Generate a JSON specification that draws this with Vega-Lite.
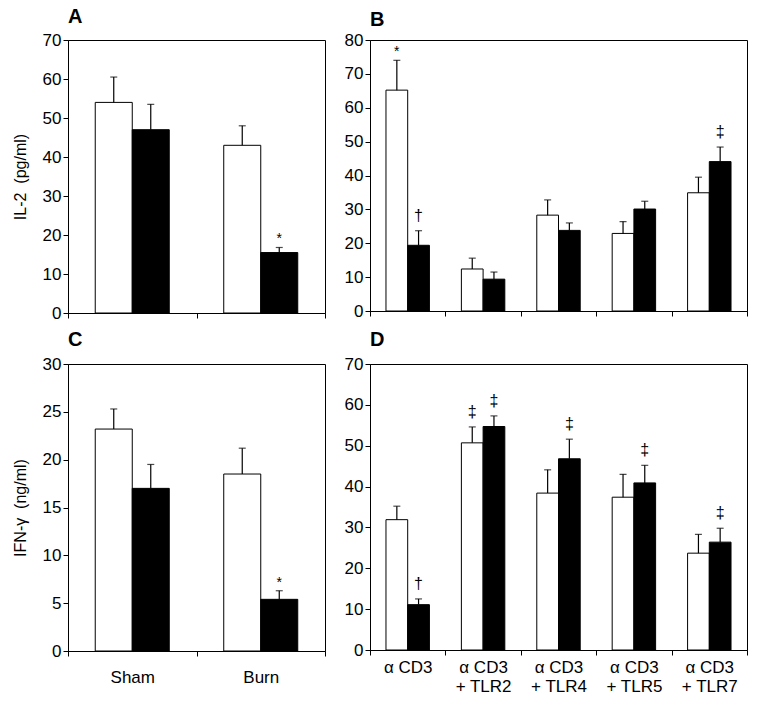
{
  "$schema": "https://vega.github.io/schema/vega-lite/v6.json",
  "padding": {"left": 11, "top": 6, "right": 10, "bottom": 5},
  "background": "white",
  "datasets": {
    "A": [
      {"group": "Sham", "series": "Group 1", "value": 54.0, "upper": 60.5, "sig": ""},
      {"group": "Sham", "series": "Group 2", "value": 47.0, "upper": 53.5, "sig": ""},
      {"group": "Burn", "series": "Group 1", "value": 43.0, "upper": 48.0, "sig": ""},
      {"group": "Burn", "series": "Group 2", "value": 15.5, "upper": 16.8, "sig": "*"}
    ],
    "B": [
      {"group": "α CD3", "series": "Group 1", "value": 65.2, "upper": 74.0, "sig": "*"},
      {"group": "α CD3", "series": "Group 2", "value": 19.4, "upper": 23.7, "sig": "†"},
      {"group": "α CD3 + TLR2", "series": "Group 1", "value": 12.4, "upper": 15.6, "sig": ""},
      {"group": "α CD3 + TLR2", "series": "Group 2", "value": 9.4, "upper": 11.5, "sig": ""},
      {"group": "α CD3 + TLR4", "series": "Group 1", "value": 28.3, "upper": 32.8, "sig": ""},
      {"group": "α CD3 + TLR4", "series": "Group 2", "value": 23.8, "upper": 26.0, "sig": ""},
      {"group": "α CD3 + TLR5", "series": "Group 1", "value": 22.9, "upper": 26.4, "sig": ""},
      {"group": "α CD3 + TLR5", "series": "Group 2", "value": 30.1, "upper": 32.4, "sig": ""},
      {"group": "α CD3 + TLR7", "series": "Group 1", "value": 34.9, "upper": 39.5, "sig": ""},
      {"group": "α CD3 + TLR7", "series": "Group 2", "value": 44.1, "upper": 48.4, "sig": "‡"}
    ],
    "C": [
      {"group": "Sham", "series": "Group 1", "value": 23.2, "upper": 25.3, "sig": ""},
      {"group": "Sham", "series": "Group 2", "value": 17.0, "upper": 19.5, "sig": ""},
      {"group": "Burn", "series": "Group 1", "value": 18.5, "upper": 21.2, "sig": ""},
      {"group": "Burn", "series": "Group 2", "value": 5.4, "upper": 6.3, "sig": "*"}
    ],
    "D": [
      {"group": "α CD3", "series": "Group 1", "value": 31.9, "upper": 35.2, "sig": ""},
      {"group": "α CD3", "series": "Group 2", "value": 11.1, "upper": 12.5, "sig": "†"},
      {"group": "α CD3 + TLR2", "series": "Group 1", "value": 50.7, "upper": 54.6, "sig": "‡"},
      {"group": "α CD3 + TLR2", "series": "Group 2", "value": 54.7, "upper": 57.3, "sig": "‡"},
      {"group": "α CD3 + TLR4", "series": "Group 1", "value": 38.4, "upper": 44.1, "sig": ""},
      {"group": "α CD3 + TLR4", "series": "Group 2", "value": 46.8, "upper": 51.6, "sig": "‡"},
      {"group": "α CD3 + TLR5", "series": "Group 1", "value": 37.4, "upper": 43.0, "sig": ""},
      {"group": "α CD3 + TLR5", "series": "Group 2", "value": 40.9, "upper": 45.2, "sig": "‡"},
      {"group": "α CD3 + TLR7", "series": "Group 1", "value": 23.7, "upper": 28.3, "sig": ""},
      {"group": "α CD3 + TLR7", "series": "Group 2", "value": 26.4, "upper": 29.8, "sig": "‡"}
    ]
  },
  "columns": 2,
  "align": "each",
  "spacing": {"row": 7, "column": 17},
  "resolve": {"scale": {"xOffset": "independent", "x": "independent", "y": "independent", "fill": "independent"}},
  "concat": [
    {
      "width": 257, "height": 273,
      "title": {"text": "A", "offset": 4.5},
      "data": {"name": "A"},
      "encoding": {
        "x": {"field": "group", "type": "nominal", "sort": ["Sham", "Burn"], "scale": {"paddingInner": 0, "paddingOuter": 0}, "axis": {"title": null, "labels": false, "tickBand": "extent"}},
        "xOffset": {"field": "series", "type": "nominal", "scale": {"paddingInner": 0, "paddingOuter": 0.736}}
      },
      "layer": [
        {"mark": {"type": "bar", "stroke": "black", "strokeWidth": 1},
         "encoding": {"y": {"field": "value", "type": "quantitative", "title": "IL-2\u00a0 (pg/ml)", "scale": {"domain": [0, 70]}, "axis": {"values": [0, 10, 20, 30, 40, 50, 60, 70]}},
           "fill": {"field": "series", "type": "nominal", "scale": {"domain": ["Group 1", "Group 2"], "range": ["white", "black"]}, "legend": null}}},
        {"mark": {"type": "rule", "strokeWidth": 1.2, "color": "black"}, "encoding": {"y": {"field": "value", "type": "quantitative", "title": "IL-2\u00a0 (pg/ml)", "axis": {"values": [0, 10, 20, 30, 40, 50, 60, 70]}}, "y2": {"field": "upper"}}},
        {"mark": {"type": "tick", "size": 7, "thickness": 1.2, "color": "black"}, "encoding": {"y": {"field": "upper", "type": "quantitative", "title": "IL-2\u00a0 (pg/ml)", "axis": {"values": [0, 10, 20, 30, 40, 50, 60, 70]}}}},
        {"transform": [{"filter": "datum.sig == '*'"}], "mark": {"type": "text", "fontSize": 14, "baseline": "alphabetic", "dy": -4, "color": "black"}, "encoding": {"y": {"field": "upper", "type": "quantitative", "title": "IL-2\u00a0 (pg/ml)", "axis": {"values": [0, 10, 20, 30, 40, 50, 60, 70]}}, "text": {"field": "sig"}}}
      ]
    },
    {
      "width": 377, "height": 271,
      "title": {"text": "B", "offset": 1},
      "data": {"name": "B"},
      "encoding": {
        "x": {"field": "group", "type": "nominal", "sort": ["α CD3", "α CD3 + TLR2", "α CD3 + TLR4", "α CD3 + TLR5", "α CD3 + TLR7"], "scale": {"paddingInner": 0, "paddingOuter": 0}, "axis": {"title": null, "labels": false, "tickBand": "extent"}},
        "xOffset": {"field": "series", "type": "nominal", "scale": {"paddingInner": 0, "paddingOuter": 0.736}}
      },
      "layer": [
        {"mark": {"type": "bar", "stroke": "black", "strokeWidth": 1},
         "encoding": {"y": {"field": "value", "type": "quantitative", "title": null, "scale": {"domain": [0, 80]}, "axis": {"values": [0, 10, 20, 30, 40, 50, 60, 70, 80]}},
           "fill": {"field": "series", "type": "nominal", "scale": {"domain": ["Group 1", "Group 2"], "range": ["white", "black"]}, "legend": null}}},
        {"mark": {"type": "rule", "strokeWidth": 1.2, "color": "black"}, "encoding": {"y": {"field": "value", "type": "quantitative", "title": null, "axis": {"values": [0, 10, 20, 30, 40, 50, 60, 70, 80]}}, "y2": {"field": "upper"}}},
        {"mark": {"type": "tick", "size": 7, "thickness": 1.2, "color": "black"}, "encoding": {"y": {"field": "upper", "type": "quantitative", "title": null, "axis": {"values": [0, 10, 20, 30, 40, 50, 60, 70, 80]}}}},
        {"transform": [{"filter": "datum.sig == '*'"}], "mark": {"type": "text", "fontSize": 14, "baseline": "alphabetic", "dy": -4, "color": "black"}, "encoding": {"y": {"field": "upper", "type": "quantitative", "title": null, "axis": {"values": [0, 10, 20, 30, 40, 50, 60, 70, 80]}}, "text": {"field": "sig"}}},
        {"transform": [{"filter": "datum.sig == '†' || datum.sig == '‡'"}], "mark": {"type": "text", "fontSize": 16, "baseline": "alphabetic", "dy": -10, "color": "black"}, "encoding": {"y": {"field": "upper", "type": "quantitative", "title": null, "axis": {"values": [0, 10, 20, 30, 40, 50, 60, 70, 80]}}, "text": {"field": "sig"}}}
      ]
    },
    {
      "width": 257, "height": 287,
      "title": {"text": "C", "offset": 5},
      "data": {"name": "C"},
      "encoding": {
        "x": {"field": "group", "type": "nominal", "sort": ["Sham", "Burn"], "scale": {"paddingInner": 0, "paddingOuter": 0}, "axis": {"title": null, "labelAngle": 0, "labelPadding": 13, "tickBand": "extent"}},
        "xOffset": {"field": "series", "type": "nominal", "scale": {"paddingInner": 0, "paddingOuter": 0.736}}
      },
      "layer": [
        {"mark": {"type": "bar", "stroke": "black", "strokeWidth": 1},
         "encoding": {"y": {"field": "value", "type": "quantitative", "title": "IFN-γ\u00a0 (ng/ml)", "scale": {"domain": [0, 30]}, "axis": {"values": [0, 5, 10, 15, 20, 25, 30]}},
           "fill": {"field": "series", "type": "nominal", "scale": {"domain": ["Group 1", "Group 2"], "range": ["white", "black"]}, "legend": null}}},
        {"mark": {"type": "rule", "strokeWidth": 1.2, "color": "black"}, "encoding": {"y": {"field": "value", "type": "quantitative", "title": "IFN-γ\u00a0 (ng/ml)", "axis": {"values": [0, 5, 10, 15, 20, 25, 30]}}, "y2": {"field": "upper"}}},
        {"mark": {"type": "tick", "size": 7, "thickness": 1.2, "color": "black"}, "encoding": {"y": {"field": "upper", "type": "quantitative", "title": "IFN-γ\u00a0 (ng/ml)", "axis": {"values": [0, 5, 10, 15, 20, 25, 30]}}}},
        {"transform": [{"filter": "datum.sig == '*'"}], "mark": {"type": "text", "fontSize": 14, "baseline": "alphabetic", "dy": -4, "color": "black"}, "encoding": {"y": {"field": "upper", "type": "quantitative", "title": "IFN-γ\u00a0 (ng/ml)", "axis": {"values": [0, 5, 10, 15, 20, 25, 30]}}, "text": {"field": "sig"}}}
      ]
    },
    {
      "width": 377, "height": 286,
      "title": {"text": "D", "offset": 5},
      "data": {"name": "D"},
      "encoding": {
        "x": {"field": "group", "type": "nominal", "sort": ["α CD3", "α CD3 + TLR2", "α CD3 + TLR4", "α CD3 + TLR5", "α CD3 + TLR7"], "scale": {"paddingInner": 0, "paddingOuter": 0}, "axis": {"title": null, "labelAngle": 0, "labelPadding": 4, "labelLineHeight": 19, "labelOverlap": false, "labelExpr": "split(replace(datum.label, ' + ', '|+ '), '|')", "tickBand": "extent"}},
        "xOffset": {"field": "series", "type": "nominal", "scale": {"paddingInner": 0, "paddingOuter": 0.736}}
      },
      "layer": [
        {"mark": {"type": "bar", "stroke": "black", "strokeWidth": 1},
         "encoding": {"y": {"field": "value", "type": "quantitative", "title": null, "scale": {"domain": [0, 70]}, "axis": {"values": [0, 10, 20, 30, 40, 50, 60, 70]}},
           "fill": {"field": "series", "type": "nominal", "scale": {"domain": ["Group 1", "Group 2"], "range": ["white", "black"]}, "legend": null}}},
        {"mark": {"type": "rule", "strokeWidth": 1.2, "color": "black"}, "encoding": {"y": {"field": "value", "type": "quantitative", "title": null, "axis": {"values": [0, 10, 20, 30, 40, 50, 60, 70]}}, "y2": {"field": "upper"}}},
        {"mark": {"type": "tick", "size": 7, "thickness": 1.2, "color": "black"}, "encoding": {"y": {"field": "upper", "type": "quantitative", "title": null, "axis": {"values": [0, 10, 20, 30, 40, 50, 60, 70]}}}},
        {"transform": [{"filter": "datum.sig == '†' || datum.sig == '‡'"}], "mark": {"type": "text", "fontSize": 16, "baseline": "alphabetic", "dy": -10, "color": "black"}, "encoding": {"y": {"field": "upper", "type": "quantitative", "title": null, "axis": {"values": [0, 10, 20, 30, 40, 50, 60, 70]}}, "text": {"field": "sig"}}}
      ]
    }
  ],
  "config": {
    "font": "Liberation Sans",
    "view": {"stroke": "black", "strokeWidth": 1},
    "title": {"anchor": "start", "frame": "group", "fontSize": 20, "fontWeight": "bold", "color": "black", "font": "Liberation Sans"},
    "axis": {"domainColor": "black", "tickColor": "black", "labelColor": "black", "titleColor": "black", "labelFont": "Liberation Sans", "titleFont": "Liberation Sans", "labelFontSize": 17, "titleFontSize": 16, "titleFontWeight": "normal", "titlePadding": 14, "grid": false, "tickSize": 5, "domainWidth": 1, "tickWidth": 1, "labelPadding": 2}
  }
}
